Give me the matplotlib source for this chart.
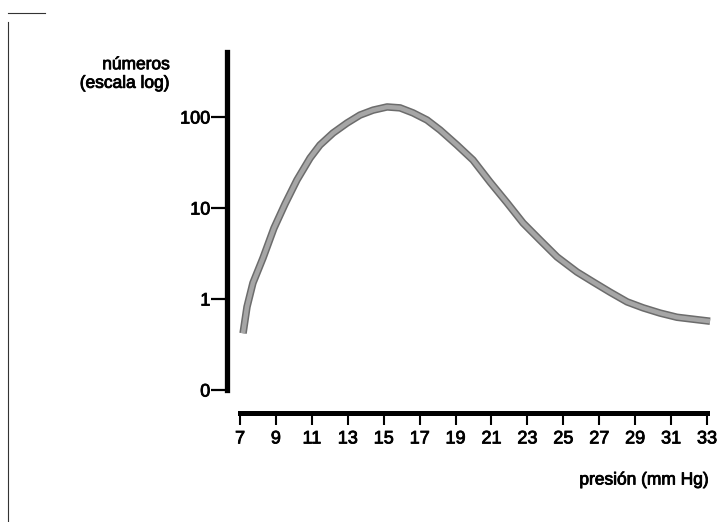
import matplotlib
matplotlib.use("Agg")
import matplotlib.pyplot as plt
from matplotlib.lines import Line2D
import matplotlib.patheffects as pe

plt.rcParams["font.family"] = ["Liberation Sans", "DejaVu Sans"]

# curve: pressure (mm Hg) vs numbers (log scale)
presion = [7.17, 7.39, 7.72, 8.28, 8.89, 9.51, 10.17, 10.90, 11.45, 12.18,
           12.96, 13.68, 14.41, 15.19, 15.91, 16.63, 17.41, 18.14, 19.08,
           19.97, 20.92, 21.87, 22.76, 23.70, 24.65, 25.76, 26.66, 27.60,
           28.55, 29.44, 30.39, 31.33, 32.22, 33.17]
numeros = [0.42, 0.82, 1.50, 2.82, 6.0, 11.1, 20.3, 35.4, 49.2, 66.7,
           85.9, 105, 119, 129, 126, 111, 92.7, 71.9, 49.2,
           33.7, 19.3, 11.4, 6.84, 4.45, 2.90, 1.98, 1.54, 1.19,
           0.93, 0.80, 0.70, 0.63, 0.60, 0.57]

x_ticks = list(range(7, 34, 2))
y_ticks = [0.1, 1, 10, 100]
y_labels = ["0", "1", "10", "100"]

W, H = 725, 522
fig = plt.figure(figsize=(W / 100, H / 100), dpi=100)
ax = fig.add_axes([227 / W, 1 - 390 / H, (707 - 227) / W, (390 - 52) / H])

ax.plot(presion, numeros, color="#6c6c6c", lw=5.4, solid_capstyle="butt",
        solid_joinstyle="round", clip_on=False)
ax.plot(presion, numeros, color="#a6a6a6", lw=3.2, solid_capstyle="butt",
        solid_joinstyle="round", clip_on=False)

ax.set_yscale("log")
ax.set_ylim(0.1, 518)
ax.set_xlim(7 + (227 - 240) / 17.96, 33)
ax.minorticks_off()

for s in ("top", "right"):
    ax.spines[s].set_visible(False)
ax.spines["left"].set_linewidth(3.8)
ax.spines["left"].set_bounds(0.1, 518)
ax.spines["bottom"].set_linewidth(3.6)
ax.spines["bottom"].set_position(("outward", 16.6))
ax.spines["bottom"].set_bounds(7, 33)

thick = [pe.withStroke(linewidth=0.6, foreground="black")]
ax.set_yticks(y_ticks)
ax.set_yticklabels(y_labels)
ax.set_xticks(x_ticks)
ax.tick_params(axis="y", length=11.5, width=1.6, pad=0.5, labelsize=13)
ax.tick_params(axis="x", length=8.5, width=1.5, pad=4, labelsize=13)
for lab in ax.get_xticklabels() + ax.get_yticklabels():
    lab.set_path_effects(thick)

fig.text(170 / W, 1 - 74 / H, "números\n(escala log)", ha="right",
         va="center", fontsize=12.5, multialignment="right",
         linespacing=1.3, path_effects=thick)
fig.text(709 / W, 1 - 480 / H, "presión (mm Hg)", ha="right",
         va="center", fontsize=12.5, path_effects=thick)

# scan frame remnants at the left edge
fig.add_artist(Line2D([8 / W, 8 / W], [1 - 22 / H, 0], color="#333333",
                      lw=0.8))
fig.add_artist(Line2D([8 / W, 45 / W], [1 - 13 / H, 1 - 13 / H],
                      color="#333333", lw=0.8))

fig.savefig("out.png", dpi=100)
